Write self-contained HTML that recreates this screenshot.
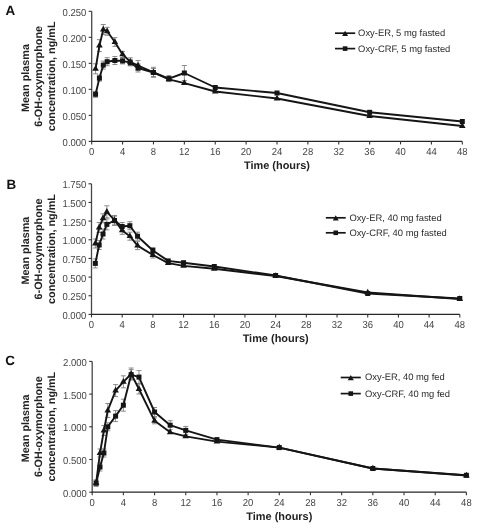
<!DOCTYPE html><html><head><meta charset="utf-8"><style>html,body{margin:0;padding:0;background:#fff;overflow:hidden;width:477px;height:528px;}svg{display:block;will-change:transform;}text{font-family:"Liberation Sans",sans-serif;text-rendering:geometricPrecision;}</style></head><body>
<svg width="477" height="528" viewBox="0 0 477 528">
<rect width="477" height="528" fill="#fff"/>
<text x="5.6" y="15.0" font-size="13.4" font-weight="bold" fill="#111">A</text>
<path d="M91.7,11.3 V142.0" fill="none" stroke="#484848" stroke-width="1.3"/>
<path d="M91.10000000000001,141.4 H462.3" fill="none" stroke="#262626" stroke-width="1.3"/>
<line x1="88.7" y1="141.40" x2="91.7" y2="141.40" stroke="#333" stroke-width="1.1"/>
<text transform="translate(86.40,146.00) scale(1,1.07)" font-size="9.5" text-anchor="end" fill="#444">0.000</text>
<line x1="88.7" y1="115.38" x2="91.7" y2="115.38" stroke="#333" stroke-width="1.1"/>
<text transform="translate(86.40,119.98) scale(1,1.07)" font-size="9.5" text-anchor="end" fill="#444">0.050</text>
<line x1="88.7" y1="89.36" x2="91.7" y2="89.36" stroke="#333" stroke-width="1.1"/>
<text transform="translate(86.40,93.96) scale(1,1.07)" font-size="9.5" text-anchor="end" fill="#444">0.100</text>
<line x1="88.7" y1="63.34" x2="91.7" y2="63.34" stroke="#333" stroke-width="1.1"/>
<text transform="translate(86.40,67.94) scale(1,1.07)" font-size="9.5" text-anchor="end" fill="#444">0.150</text>
<line x1="88.7" y1="37.32" x2="91.7" y2="37.32" stroke="#333" stroke-width="1.1"/>
<text transform="translate(86.40,41.92) scale(1,1.07)" font-size="9.5" text-anchor="end" fill="#444">0.200</text>
<line x1="88.7" y1="11.30" x2="91.7" y2="11.30" stroke="#333" stroke-width="1.1"/>
<text transform="translate(86.40,15.90) scale(1,1.07)" font-size="9.5" text-anchor="end" fill="#444">0.250</text>
<line x1="91.70" y1="141.4" x2="91.70" y2="144.4" stroke="#333" stroke-width="1.1"/>
<text transform="translate(91.70,154.8) scale(1,1.07)" font-size="9.5" text-anchor="middle" fill="#444">0</text>
<line x1="122.58" y1="141.4" x2="122.58" y2="144.4" stroke="#333" stroke-width="1.1"/>
<text transform="translate(122.58,154.8) scale(1,1.07)" font-size="9.5" text-anchor="middle" fill="#444">4</text>
<line x1="153.47" y1="141.4" x2="153.47" y2="144.4" stroke="#333" stroke-width="1.1"/>
<text transform="translate(153.47,154.8) scale(1,1.07)" font-size="9.5" text-anchor="middle" fill="#444">8</text>
<line x1="184.35" y1="141.4" x2="184.35" y2="144.4" stroke="#333" stroke-width="1.1"/>
<text transform="translate(184.35,154.8) scale(1,1.07)" font-size="9.5" text-anchor="middle" fill="#444">12</text>
<line x1="215.23" y1="141.4" x2="215.23" y2="144.4" stroke="#333" stroke-width="1.1"/>
<text transform="translate(215.23,154.8) scale(1,1.07)" font-size="9.5" text-anchor="middle" fill="#444">16</text>
<line x1="246.12" y1="141.4" x2="246.12" y2="144.4" stroke="#333" stroke-width="1.1"/>
<text transform="translate(246.12,154.8) scale(1,1.07)" font-size="9.5" text-anchor="middle" fill="#444">20</text>
<line x1="277.00" y1="141.4" x2="277.00" y2="144.4" stroke="#333" stroke-width="1.1"/>
<text transform="translate(277.00,154.8) scale(1,1.07)" font-size="9.5" text-anchor="middle" fill="#444">24</text>
<line x1="307.88" y1="141.4" x2="307.88" y2="144.4" stroke="#333" stroke-width="1.1"/>
<text transform="translate(307.88,154.8) scale(1,1.07)" font-size="9.5" text-anchor="middle" fill="#444">28</text>
<line x1="338.77" y1="141.4" x2="338.77" y2="144.4" stroke="#333" stroke-width="1.1"/>
<text transform="translate(338.77,154.8) scale(1,1.07)" font-size="9.5" text-anchor="middle" fill="#444">32</text>
<line x1="369.65" y1="141.4" x2="369.65" y2="144.4" stroke="#333" stroke-width="1.1"/>
<text transform="translate(369.65,154.8) scale(1,1.07)" font-size="9.5" text-anchor="middle" fill="#444">36</text>
<line x1="400.53" y1="141.4" x2="400.53" y2="144.4" stroke="#333" stroke-width="1.1"/>
<text transform="translate(400.53,154.8) scale(1,1.07)" font-size="9.5" text-anchor="middle" fill="#444">40</text>
<line x1="431.42" y1="141.4" x2="431.42" y2="144.4" stroke="#333" stroke-width="1.1"/>
<text transform="translate(431.42,154.8) scale(1,1.07)" font-size="9.5" text-anchor="middle" fill="#444">44</text>
<line x1="462.30" y1="141.4" x2="462.30" y2="144.4" stroke="#333" stroke-width="1.1"/>
<text transform="translate(462.30,154.8) scale(1,1.07)" font-size="9.5" text-anchor="middle" fill="#444">48</text>
<text x="277.00" y="168.79999999999998" font-size="10.95" font-weight="bold" text-anchor="middle" fill="#222">Time (hours)</text>
<text transform="translate(29.0,78.0) rotate(-90)" x="0" y="0" font-size="10.8" font-weight="bold" text-anchor="middle" fill="#222">Mean plasma</text>
<text transform="translate(42.0,76.4) rotate(-90)" x="0" y="0" font-size="10.8" font-weight="bold" text-anchor="middle" fill="#222">6-OH-oxymorphone</text>
<text transform="translate(54.6,76.4) rotate(-90)" x="0" y="0" font-size="10.8" font-weight="bold" text-anchor="middle" fill="#222">concentration, ng/mL</text>
<path d="M95.56,63.80 V73.80 M93.06,63.80 h5 M93.06,73.80 h5" stroke="#7a7a7a" stroke-width="0.85" fill="none"/>
<path d="M99.42,39.60 V51.60 M96.92,39.60 h5 M96.92,51.60 h5" stroke="#7a7a7a" stroke-width="0.85" fill="none"/>
<path d="M103.28,24.50 V34.50 M100.78,24.50 h5 M100.78,34.50 h5" stroke="#7a7a7a" stroke-width="0.85" fill="none"/>
<path d="M107.14,27.30 V35.30 M104.64,27.30 h5 M104.64,35.30 h5" stroke="#7a7a7a" stroke-width="0.85" fill="none"/>
<path d="M114.86,37.60 V46.40 M112.36,37.60 h5 M112.36,46.40 h5" stroke="#7a7a7a" stroke-width="0.85" fill="none"/>
<path d="M122.58,51.40 V57.40 M120.08,51.40 h5 M120.08,57.40 h5" stroke="#7a7a7a" stroke-width="0.85" fill="none"/>
<path d="M130.30,57.80 V65.80 M127.80,57.80 h5 M127.80,65.80 h5" stroke="#7a7a7a" stroke-width="0.85" fill="none"/>
<path d="M138.03,60.50 V70.50 M135.53,60.50 h5 M135.53,70.50 h5" stroke="#7a7a7a" stroke-width="0.85" fill="none"/>
<path d="M153.47,67.30 V77.30 M150.97,67.30 h5 M150.97,77.30 h5" stroke="#7a7a7a" stroke-width="0.85" fill="none"/>
<path d="M95.56,91.30 V97.30 M93.06,91.30 h5 M93.06,97.30 h5" stroke="#7a7a7a" stroke-width="0.85" fill="none"/>
<path d="M99.42,75.10 V81.10 M96.92,75.10 h5 M96.92,81.10 h5" stroke="#7a7a7a" stroke-width="0.85" fill="none"/>
<path d="M103.28,61.10 V69.10 M100.78,61.10 h5 M100.78,69.10 h5" stroke="#7a7a7a" stroke-width="0.85" fill="none"/>
<path d="M107.14,57.70 V65.70 M104.64,57.70 h5 M104.64,65.70 h5" stroke="#7a7a7a" stroke-width="0.85" fill="none"/>
<path d="M114.86,56.50 V64.50 M112.36,56.50 h5 M112.36,64.50 h5" stroke="#7a7a7a" stroke-width="0.85" fill="none"/>
<path d="M122.58,57.90 V63.90 M120.08,57.90 h5 M120.08,63.90 h5" stroke="#7a7a7a" stroke-width="0.85" fill="none"/>
<path d="M130.30,59.60 V65.60 M127.80,59.60 h5 M127.80,65.60 h5" stroke="#7a7a7a" stroke-width="0.85" fill="none"/>
<path d="M138.03,64.00 V72.00 M135.53,64.00 h5 M135.53,72.00 h5" stroke="#7a7a7a" stroke-width="0.85" fill="none"/>
<path d="M153.47,68.50 V76.50 M150.97,68.50 h5 M150.97,76.50 h5" stroke="#7a7a7a" stroke-width="0.85" fill="none"/>
<path d="M168.91,75.60 V81.60 M166.41,75.60 h5 M166.41,81.60 h5" stroke="#7a7a7a" stroke-width="0.85" fill="none"/>
<path d="M184.35,65.50 V80.50 M181.85,65.50 h5 M181.85,80.50 h5" stroke="#7a7a7a" stroke-width="0.85" fill="none"/>
<polyline points="95.56,68.80 99.42,45.60 103.28,29.50 107.14,31.30 114.86,42.00 122.58,54.40 130.30,61.80 138.03,65.50 153.47,72.30 168.91,79.40 184.35,83.10 215.23,91.50 277.00,98.50 369.65,116.00 462.30,126.00" fill="none" stroke="#151515" stroke-width="1.9" stroke-linejoin="round"/>
<polyline points="95.56,94.30 99.42,78.10 103.28,65.10 107.14,61.70 114.86,60.50 122.58,60.90 130.30,62.60 138.03,68.00 153.47,72.50 168.91,78.60 184.35,73.00 215.23,87.50 277.00,93.00 369.65,112.30 462.30,121.50" fill="none" stroke="#151515" stroke-width="1.9" stroke-linejoin="round"/>
<rect x="93.06" y="91.80" width="5.0" height="5.0" fill="#151515"/>
<rect x="96.92" y="75.60" width="5.0" height="5.0" fill="#151515"/>
<rect x="100.78" y="62.60" width="5.0" height="5.0" fill="#151515"/>
<rect x="104.64" y="59.20" width="5.0" height="5.0" fill="#151515"/>
<rect x="112.36" y="58.00" width="5.0" height="5.0" fill="#151515"/>
<rect x="120.08" y="58.40" width="5.0" height="5.0" fill="#151515"/>
<rect x="127.80" y="60.10" width="5.0" height="5.0" fill="#151515"/>
<rect x="135.53" y="65.50" width="5.0" height="5.0" fill="#151515"/>
<rect x="150.97" y="70.00" width="5.0" height="5.0" fill="#151515"/>
<rect x="166.41" y="76.10" width="5.0" height="5.0" fill="#151515"/>
<rect x="181.85" y="70.50" width="5.0" height="5.0" fill="#151515"/>
<rect x="212.73" y="85.00" width="5.0" height="5.0" fill="#151515"/>
<rect x="274.50" y="90.50" width="5.0" height="5.0" fill="#151515"/>
<rect x="367.15" y="109.80" width="5.0" height="5.0" fill="#151515"/>
<rect x="459.80" y="119.00" width="5.0" height="5.0" fill="#151515"/>
<path d="M92.26,70.69 L98.86,70.69 L95.56,65.02 Z" fill="#151515"/>
<path d="M96.12,47.49 L102.72,47.49 L99.42,41.82 Z" fill="#151515"/>
<path d="M99.98,31.39 L106.58,31.39 L103.28,25.72 Z" fill="#151515"/>
<path d="M103.84,33.19 L110.44,33.19 L107.14,27.52 Z" fill="#151515"/>
<path d="M111.56,43.89 L118.16,43.89 L114.86,38.22 Z" fill="#151515"/>
<path d="M119.28,56.29 L125.88,56.29 L122.58,50.62 Z" fill="#151515"/>
<path d="M127.00,63.69 L133.60,63.69 L130.30,58.02 Z" fill="#151515"/>
<path d="M134.72,67.39 L141.33,67.39 L138.03,61.72 Z" fill="#151515"/>
<path d="M150.17,74.19 L156.77,74.19 L153.47,68.52 Z" fill="#151515"/>
<path d="M165.61,81.29 L172.21,81.29 L168.91,75.62 Z" fill="#151515"/>
<path d="M181.05,84.99 L187.65,84.99 L184.35,79.32 Z" fill="#151515"/>
<path d="M211.93,93.39 L218.53,93.39 L215.23,87.72 Z" fill="#151515"/>
<path d="M273.70,100.39 L280.30,100.39 L277.00,94.72 Z" fill="#151515"/>
<path d="M366.35,117.89 L372.95,117.89 L369.65,112.22 Z" fill="#151515"/>
<path d="M459.00,127.89 L465.60,127.89 L462.30,122.22 Z" fill="#151515"/>
<line x1="335.0" y1="33.2" x2="355.2" y2="33.2" stroke="#151515" stroke-width="1.7"/>
<path d="M342.10,35.92 L348.10,35.92 L345.10,30.76 Z" fill="#151515"/>
<text x="358.1" y="36.10" font-size="9.4" fill="#2a2a2a">Oxy-ER, 5 mg fasted</text>
<line x1="335.0" y1="48.6" x2="355.2" y2="48.6" stroke="#151515" stroke-width="1.7"/>
<rect x="342.80" y="46.30" width="4.6" height="4.6" fill="#151515"/>
<text x="358.1" y="51.50" font-size="9.4" fill="#2a2a2a">Oxy-CRF, 5 mg fasted</text>
<text x="6.4" y="188.7" font-size="13.4" font-weight="bold" fill="#111">B</text>
<path d="M91.5,183.8 V315.0" fill="none" stroke="#484848" stroke-width="1.3"/>
<path d="M90.9,314.4 H459.8" fill="none" stroke="#262626" stroke-width="1.3"/>
<line x1="88.5" y1="314.40" x2="91.5" y2="314.40" stroke="#333" stroke-width="1.1"/>
<text transform="translate(86.20,319.00) scale(1,1.07)" font-size="9.5" text-anchor="end" fill="#444">0.000</text>
<line x1="88.5" y1="295.74" x2="91.5" y2="295.74" stroke="#333" stroke-width="1.1"/>
<text transform="translate(86.20,300.34) scale(1,1.07)" font-size="9.5" text-anchor="end" fill="#444">0.250</text>
<line x1="88.5" y1="277.09" x2="91.5" y2="277.09" stroke="#333" stroke-width="1.1"/>
<text transform="translate(86.20,281.69) scale(1,1.07)" font-size="9.5" text-anchor="end" fill="#444">0.500</text>
<line x1="88.5" y1="258.43" x2="91.5" y2="258.43" stroke="#333" stroke-width="1.1"/>
<text transform="translate(86.20,263.03) scale(1,1.07)" font-size="9.5" text-anchor="end" fill="#444">0.750</text>
<line x1="88.5" y1="239.77" x2="91.5" y2="239.77" stroke="#333" stroke-width="1.1"/>
<text transform="translate(86.20,244.37) scale(1,1.07)" font-size="9.5" text-anchor="end" fill="#444">1.000</text>
<line x1="88.5" y1="221.11" x2="91.5" y2="221.11" stroke="#333" stroke-width="1.1"/>
<text transform="translate(86.20,225.71) scale(1,1.07)" font-size="9.5" text-anchor="end" fill="#444">1.250</text>
<line x1="88.5" y1="202.46" x2="91.5" y2="202.46" stroke="#333" stroke-width="1.1"/>
<text transform="translate(86.20,207.06) scale(1,1.07)" font-size="9.5" text-anchor="end" fill="#444">1.500</text>
<line x1="88.5" y1="183.80" x2="91.5" y2="183.80" stroke="#333" stroke-width="1.1"/>
<text transform="translate(86.20,188.40) scale(1,1.07)" font-size="9.5" text-anchor="end" fill="#444">1.750</text>
<line x1="91.50" y1="314.4" x2="91.50" y2="317.4" stroke="#333" stroke-width="1.1"/>
<text transform="translate(91.50,327.7) scale(1,1.07)" font-size="9.5" text-anchor="middle" fill="#444">0</text>
<line x1="122.19" y1="314.4" x2="122.19" y2="317.4" stroke="#333" stroke-width="1.1"/>
<text transform="translate(122.19,327.7) scale(1,1.07)" font-size="9.5" text-anchor="middle" fill="#444">4</text>
<line x1="152.88" y1="314.4" x2="152.88" y2="317.4" stroke="#333" stroke-width="1.1"/>
<text transform="translate(152.88,327.7) scale(1,1.07)" font-size="9.5" text-anchor="middle" fill="#444">8</text>
<line x1="183.57" y1="314.4" x2="183.57" y2="317.4" stroke="#333" stroke-width="1.1"/>
<text transform="translate(183.57,327.7) scale(1,1.07)" font-size="9.5" text-anchor="middle" fill="#444">12</text>
<line x1="214.27" y1="314.4" x2="214.27" y2="317.4" stroke="#333" stroke-width="1.1"/>
<text transform="translate(214.27,327.7) scale(1,1.07)" font-size="9.5" text-anchor="middle" fill="#444">16</text>
<line x1="244.96" y1="314.4" x2="244.96" y2="317.4" stroke="#333" stroke-width="1.1"/>
<text transform="translate(244.96,327.7) scale(1,1.07)" font-size="9.5" text-anchor="middle" fill="#444">20</text>
<line x1="275.65" y1="314.4" x2="275.65" y2="317.4" stroke="#333" stroke-width="1.1"/>
<text transform="translate(275.65,327.7) scale(1,1.07)" font-size="9.5" text-anchor="middle" fill="#444">24</text>
<line x1="306.34" y1="314.4" x2="306.34" y2="317.4" stroke="#333" stroke-width="1.1"/>
<text transform="translate(306.34,327.7) scale(1,1.07)" font-size="9.5" text-anchor="middle" fill="#444">28</text>
<line x1="337.03" y1="314.4" x2="337.03" y2="317.4" stroke="#333" stroke-width="1.1"/>
<text transform="translate(337.03,327.7) scale(1,1.07)" font-size="9.5" text-anchor="middle" fill="#444">32</text>
<line x1="367.73" y1="314.4" x2="367.73" y2="317.4" stroke="#333" stroke-width="1.1"/>
<text transform="translate(367.73,327.7) scale(1,1.07)" font-size="9.5" text-anchor="middle" fill="#444">36</text>
<line x1="398.42" y1="314.4" x2="398.42" y2="317.4" stroke="#333" stroke-width="1.1"/>
<text transform="translate(398.42,327.7) scale(1,1.07)" font-size="9.5" text-anchor="middle" fill="#444">40</text>
<line x1="429.11" y1="314.4" x2="429.11" y2="317.4" stroke="#333" stroke-width="1.1"/>
<text transform="translate(429.11,327.7) scale(1,1.07)" font-size="9.5" text-anchor="middle" fill="#444">44</text>
<line x1="459.80" y1="314.4" x2="459.80" y2="317.4" stroke="#333" stroke-width="1.1"/>
<text transform="translate(459.80,327.7) scale(1,1.07)" font-size="9.5" text-anchor="middle" fill="#444">48</text>
<text x="275.65" y="342.20000000000005" font-size="10.95" font-weight="bold" text-anchor="middle" fill="#222">Time (hours)</text>
<text transform="translate(28.8,250.6) rotate(-90)" x="0" y="0" font-size="10.8" font-weight="bold" text-anchor="middle" fill="#222">Mean plasma</text>
<text transform="translate(42.0,249.0) rotate(-90)" x="0" y="0" font-size="10.8" font-weight="bold" text-anchor="middle" fill="#222">6-OH-oxymorphone</text>
<text transform="translate(54.5,249.0) rotate(-90)" x="0" y="0" font-size="10.8" font-weight="bold" text-anchor="middle" fill="#222">concentration, ng/mL</text>
<path d="M95.34,239.00 V248.00 M92.84,239.00 h5 M92.84,248.00 h5" stroke="#7a7a7a" stroke-width="0.85" fill="none"/>
<path d="M99.17,222.50 V232.50 M96.67,222.50 h5 M96.67,232.50 h5" stroke="#7a7a7a" stroke-width="0.85" fill="none"/>
<path d="M103.01,213.80 V222.80 M100.51,213.80 h5 M100.51,222.80 h5" stroke="#7a7a7a" stroke-width="0.85" fill="none"/>
<path d="M106.85,205.80 V217.80 M104.35,205.80 h5 M104.35,217.80 h5" stroke="#7a7a7a" stroke-width="0.85" fill="none"/>
<path d="M114.52,216.20 V224.20 M112.02,216.20 h5 M112.02,224.20 h5" stroke="#7a7a7a" stroke-width="0.85" fill="none"/>
<path d="M122.19,226.40 V234.40 M119.69,226.40 h5 M119.69,234.40 h5" stroke="#7a7a7a" stroke-width="0.85" fill="none"/>
<path d="M129.86,232.20 V240.20 M127.36,232.20 h5 M127.36,240.20 h5" stroke="#7a7a7a" stroke-width="0.85" fill="none"/>
<path d="M137.54,241.60 V249.60 M135.04,241.60 h5 M135.04,249.60 h5" stroke="#7a7a7a" stroke-width="0.85" fill="none"/>
<path d="M152.88,252.00 V258.00 M150.38,252.00 h5 M150.38,258.00 h5" stroke="#7a7a7a" stroke-width="0.85" fill="none"/>
<path d="M95.34,258.90 V267.90 M92.84,258.90 h5 M92.84,267.90 h5" stroke="#7a7a7a" stroke-width="0.85" fill="none"/>
<path d="M99.17,240.50 V249.50 M96.67,240.50 h5 M96.67,249.50 h5" stroke="#7a7a7a" stroke-width="0.85" fill="none"/>
<path d="M103.01,229.00 V239.00 M100.51,229.00 h5 M100.51,239.00 h5" stroke="#7a7a7a" stroke-width="0.85" fill="none"/>
<path d="M106.85,218.90 V229.90 M104.35,218.90 h5 M104.35,229.90 h5" stroke="#7a7a7a" stroke-width="0.85" fill="none"/>
<path d="M114.52,215.50 V225.50 M112.02,215.50 h5 M112.02,225.50 h5" stroke="#7a7a7a" stroke-width="0.85" fill="none"/>
<path d="M122.19,222.50 V230.50 M119.69,222.50 h5 M119.69,230.50 h5" stroke="#7a7a7a" stroke-width="0.85" fill="none"/>
<path d="M129.86,221.70 V229.70 M127.36,221.70 h5 M127.36,229.70 h5" stroke="#7a7a7a" stroke-width="0.85" fill="none"/>
<path d="M137.54,232.20 V240.20 M135.04,232.20 h5 M135.04,240.20 h5" stroke="#7a7a7a" stroke-width="0.85" fill="none"/>
<path d="M152.88,247.50 V253.50 M150.38,247.50 h5 M150.38,253.50 h5" stroke="#7a7a7a" stroke-width="0.85" fill="none"/>
<polyline points="95.34,243.50 99.17,227.50 103.01,218.30 106.85,211.80 114.52,220.20 122.19,230.40 129.86,236.20 137.54,245.60 152.88,255.00 168.23,263.10 183.57,265.90 214.27,268.80 275.65,276.00 367.73,292.50 459.80,299.00" fill="none" stroke="#151515" stroke-width="1.9" stroke-linejoin="round"/>
<polyline points="95.34,263.40 99.17,245.00 103.01,234.00 106.85,224.40 114.52,220.50 122.19,226.50 129.86,225.70 137.54,236.20 152.88,250.50 168.23,260.90 183.57,262.70 214.27,266.50 275.65,275.50 367.73,293.50 459.80,298.50" fill="none" stroke="#151515" stroke-width="1.9" stroke-linejoin="round"/>
<rect x="92.84" y="260.90" width="5.0" height="5.0" fill="#151515"/>
<rect x="96.67" y="242.50" width="5.0" height="5.0" fill="#151515"/>
<rect x="100.51" y="231.50" width="5.0" height="5.0" fill="#151515"/>
<rect x="104.35" y="221.90" width="5.0" height="5.0" fill="#151515"/>
<rect x="112.02" y="218.00" width="5.0" height="5.0" fill="#151515"/>
<rect x="119.69" y="224.00" width="5.0" height="5.0" fill="#151515"/>
<rect x="127.36" y="223.20" width="5.0" height="5.0" fill="#151515"/>
<rect x="135.04" y="233.70" width="5.0" height="5.0" fill="#151515"/>
<rect x="150.38" y="248.00" width="5.0" height="5.0" fill="#151515"/>
<rect x="165.73" y="258.40" width="5.0" height="5.0" fill="#151515"/>
<rect x="181.07" y="260.20" width="5.0" height="5.0" fill="#151515"/>
<rect x="211.77" y="264.00" width="5.0" height="5.0" fill="#151515"/>
<rect x="273.15" y="273.00" width="5.0" height="5.0" fill="#151515"/>
<rect x="365.23" y="291.00" width="5.0" height="5.0" fill="#151515"/>
<rect x="457.30" y="296.00" width="5.0" height="5.0" fill="#151515"/>
<path d="M92.04,245.39 L98.64,245.39 L95.34,239.72 Z" fill="#151515"/>
<path d="M95.87,229.39 L102.47,229.39 L99.17,223.72 Z" fill="#151515"/>
<path d="M99.71,220.19 L106.31,220.19 L103.01,214.52 Z" fill="#151515"/>
<path d="M103.55,213.69 L110.15,213.69 L106.85,208.02 Z" fill="#151515"/>
<path d="M111.22,222.09 L117.82,222.09 L114.52,216.42 Z" fill="#151515"/>
<path d="M118.89,232.29 L125.49,232.29 L122.19,226.62 Z" fill="#151515"/>
<path d="M126.56,238.09 L133.16,238.09 L129.86,232.42 Z" fill="#151515"/>
<path d="M134.24,247.49 L140.84,247.49 L137.54,241.82 Z" fill="#151515"/>
<path d="M149.58,256.89 L156.18,256.89 L152.88,251.22 Z" fill="#151515"/>
<path d="M164.93,264.99 L171.53,264.99 L168.23,259.32 Z" fill="#151515"/>
<path d="M180.27,267.79 L186.88,267.79 L183.57,262.12 Z" fill="#151515"/>
<path d="M210.97,270.69 L217.57,270.69 L214.27,265.02 Z" fill="#151515"/>
<path d="M272.35,277.89 L278.95,277.89 L275.65,272.22 Z" fill="#151515"/>
<path d="M364.43,294.39 L371.03,294.39 L367.73,288.72 Z" fill="#151515"/>
<path d="M456.50,300.89 L463.10,300.89 L459.80,295.22 Z" fill="#151515"/>
<line x1="325.8" y1="217.8" x2="345.7" y2="217.8" stroke="#151515" stroke-width="1.7"/>
<path d="M332.75,220.52 L338.75,220.52 L335.75,215.36 Z" fill="#151515"/>
<text x="349.4" y="220.70" font-size="9.4" fill="#2a2a2a">Oxy-ER, 40 mg fasted</text>
<line x1="325.8" y1="232.8" x2="345.7" y2="232.8" stroke="#151515" stroke-width="1.7"/>
<rect x="333.45" y="230.50" width="4.6" height="4.6" fill="#151515"/>
<text x="349.4" y="235.70" font-size="9.4" fill="#2a2a2a">Oxy-CRF, 40 mg fasted</text>
<text x="5.2" y="364.9" font-size="13.4" font-weight="bold" fill="#111">C</text>
<path d="M92.2,361.4 V492.8" fill="none" stroke="#484848" stroke-width="1.3"/>
<path d="M91.60000000000001,492.2 H466.4" fill="none" stroke="#262626" stroke-width="1.3"/>
<line x1="89.2" y1="492.20" x2="92.2" y2="492.20" stroke="#333" stroke-width="1.1"/>
<text transform="translate(86.90,496.80) scale(1,1.07)" font-size="9.5" text-anchor="end" fill="#444">0.000</text>
<line x1="89.2" y1="459.50" x2="92.2" y2="459.50" stroke="#333" stroke-width="1.1"/>
<text transform="translate(86.90,464.10) scale(1,1.07)" font-size="9.5" text-anchor="end" fill="#444">0.500</text>
<line x1="89.2" y1="426.80" x2="92.2" y2="426.80" stroke="#333" stroke-width="1.1"/>
<text transform="translate(86.90,431.40) scale(1,1.07)" font-size="9.5" text-anchor="end" fill="#444">1.000</text>
<line x1="89.2" y1="394.10" x2="92.2" y2="394.10" stroke="#333" stroke-width="1.1"/>
<text transform="translate(86.90,398.70) scale(1,1.07)" font-size="9.5" text-anchor="end" fill="#444">1.500</text>
<line x1="89.2" y1="361.40" x2="92.2" y2="361.40" stroke="#333" stroke-width="1.1"/>
<text transform="translate(86.90,366.00) scale(1,1.07)" font-size="9.5" text-anchor="end" fill="#444">2.000</text>
<line x1="92.20" y1="492.2" x2="92.20" y2="495.2" stroke="#333" stroke-width="1.1"/>
<text transform="translate(92.20,505.7) scale(1,1.07)" font-size="9.5" text-anchor="middle" fill="#444">0</text>
<line x1="123.38" y1="492.2" x2="123.38" y2="495.2" stroke="#333" stroke-width="1.1"/>
<text transform="translate(123.38,505.7) scale(1,1.07)" font-size="9.5" text-anchor="middle" fill="#444">4</text>
<line x1="154.57" y1="492.2" x2="154.57" y2="495.2" stroke="#333" stroke-width="1.1"/>
<text transform="translate(154.57,505.7) scale(1,1.07)" font-size="9.5" text-anchor="middle" fill="#444">8</text>
<line x1="185.75" y1="492.2" x2="185.75" y2="495.2" stroke="#333" stroke-width="1.1"/>
<text transform="translate(185.75,505.7) scale(1,1.07)" font-size="9.5" text-anchor="middle" fill="#444">12</text>
<line x1="216.93" y1="492.2" x2="216.93" y2="495.2" stroke="#333" stroke-width="1.1"/>
<text transform="translate(216.93,505.7) scale(1,1.07)" font-size="9.5" text-anchor="middle" fill="#444">16</text>
<line x1="248.12" y1="492.2" x2="248.12" y2="495.2" stroke="#333" stroke-width="1.1"/>
<text transform="translate(248.12,505.7) scale(1,1.07)" font-size="9.5" text-anchor="middle" fill="#444">20</text>
<line x1="279.30" y1="492.2" x2="279.30" y2="495.2" stroke="#333" stroke-width="1.1"/>
<text transform="translate(279.30,505.7) scale(1,1.07)" font-size="9.5" text-anchor="middle" fill="#444">24</text>
<line x1="310.48" y1="492.2" x2="310.48" y2="495.2" stroke="#333" stroke-width="1.1"/>
<text transform="translate(310.48,505.7) scale(1,1.07)" font-size="9.5" text-anchor="middle" fill="#444">28</text>
<line x1="341.67" y1="492.2" x2="341.67" y2="495.2" stroke="#333" stroke-width="1.1"/>
<text transform="translate(341.67,505.7) scale(1,1.07)" font-size="9.5" text-anchor="middle" fill="#444">32</text>
<line x1="372.85" y1="492.2" x2="372.85" y2="495.2" stroke="#333" stroke-width="1.1"/>
<text transform="translate(372.85,505.7) scale(1,1.07)" font-size="9.5" text-anchor="middle" fill="#444">36</text>
<line x1="404.03" y1="492.2" x2="404.03" y2="495.2" stroke="#333" stroke-width="1.1"/>
<text transform="translate(404.03,505.7) scale(1,1.07)" font-size="9.5" text-anchor="middle" fill="#444">40</text>
<line x1="435.22" y1="492.2" x2="435.22" y2="495.2" stroke="#333" stroke-width="1.1"/>
<text transform="translate(435.22,505.7) scale(1,1.07)" font-size="9.5" text-anchor="middle" fill="#444">44</text>
<line x1="466.40" y1="492.2" x2="466.40" y2="495.2" stroke="#333" stroke-width="1.1"/>
<text transform="translate(466.40,505.7) scale(1,1.07)" font-size="9.5" text-anchor="middle" fill="#444">48</text>
<text x="279.30" y="520.3000000000001" font-size="10.95" font-weight="bold" text-anchor="middle" fill="#222">Time (hours)</text>
<text transform="translate(29.0,428.3) rotate(-90)" x="0" y="0" font-size="10.8" font-weight="bold" text-anchor="middle" fill="#222">Mean plasma</text>
<text transform="translate(41.8,426.7) rotate(-90)" x="0" y="0" font-size="10.8" font-weight="bold" text-anchor="middle" fill="#222">6-OH-oxymorphone</text>
<text transform="translate(54.6,426.7) rotate(-90)" x="0" y="0" font-size="10.8" font-weight="bold" text-anchor="middle" fill="#222">concentration, ng/mL</text>
<path d="M96.10,480.00 V486.00 M93.60,480.00 h5 M93.60,486.00 h5" stroke="#7a7a7a" stroke-width="0.85" fill="none"/>
<path d="M100.00,449.00 V457.00 M97.50,449.00 h5 M97.50,457.00 h5" stroke="#7a7a7a" stroke-width="0.85" fill="none"/>
<path d="M103.89,425.50 V435.50 M101.39,425.50 h5 M101.39,435.50 h5" stroke="#7a7a7a" stroke-width="0.85" fill="none"/>
<path d="M107.79,403.50 V417.50 M105.29,403.50 h5 M105.29,417.50 h5" stroke="#7a7a7a" stroke-width="0.85" fill="none"/>
<path d="M115.59,384.60 V396.60 M113.09,384.60 h5 M113.09,396.60 h5" stroke="#7a7a7a" stroke-width="0.85" fill="none"/>
<path d="M123.38,375.80 V387.80 M120.88,375.80 h5 M120.88,387.80 h5" stroke="#7a7a7a" stroke-width="0.85" fill="none"/>
<path d="M131.18,368.00 V380.00 M128.68,368.00 h5 M128.68,380.00 h5" stroke="#7a7a7a" stroke-width="0.85" fill="none"/>
<path d="M138.97,384.00 V394.00 M136.47,384.00 h5 M136.47,394.00 h5" stroke="#7a7a7a" stroke-width="0.85" fill="none"/>
<path d="M154.57,417.80 V423.80 M152.07,417.80 h5 M152.07,423.80 h5" stroke="#7a7a7a" stroke-width="0.85" fill="none"/>
<path d="M96.10,480.20 V486.20 M93.60,480.20 h5 M93.60,486.20 h5" stroke="#7a7a7a" stroke-width="0.85" fill="none"/>
<path d="M100.00,463.00 V471.00 M97.50,463.00 h5 M97.50,471.00 h5" stroke="#7a7a7a" stroke-width="0.85" fill="none"/>
<path d="M103.89,449.00 V457.00 M101.39,449.00 h5 M101.39,457.00 h5" stroke="#7a7a7a" stroke-width="0.85" fill="none"/>
<path d="M107.79,422.80 V430.80 M105.29,422.80 h5 M105.29,430.80 h5" stroke="#7a7a7a" stroke-width="0.85" fill="none"/>
<path d="M115.59,410.60 V421.60 M113.09,410.60 h5 M113.09,421.60 h5" stroke="#7a7a7a" stroke-width="0.85" fill="none"/>
<path d="M123.38,399.20 V411.20 M120.88,399.20 h5 M120.88,411.20 h5" stroke="#7a7a7a" stroke-width="0.85" fill="none"/>
<path d="M131.18,369.60 V379.60 M128.68,369.60 h5 M128.68,379.60 h5" stroke="#7a7a7a" stroke-width="0.85" fill="none"/>
<path d="M138.97,370.60 V383.60 M136.47,370.60 h5 M136.47,383.60 h5" stroke="#7a7a7a" stroke-width="0.85" fill="none"/>
<path d="M154.57,407.50 V416.50 M152.07,407.50 h5 M152.07,416.50 h5" stroke="#7a7a7a" stroke-width="0.85" fill="none"/>
<path d="M170.16,420.70 V429.70 M167.66,420.70 h5 M167.66,429.70 h5" stroke="#7a7a7a" stroke-width="0.85" fill="none"/>
<path d="M185.75,426.40 V434.40 M183.25,426.40 h5 M183.25,434.40 h5" stroke="#7a7a7a" stroke-width="0.85" fill="none"/>
<polyline points="96.10,483.00 100.00,453.00 103.89,430.50 107.79,410.50 115.59,390.60 123.38,381.80 131.18,374.00 138.97,389.00 154.57,420.80 170.16,432.30 185.75,436.40 216.93,441.60 279.30,447.60 372.85,468.50 466.40,475.50" fill="none" stroke="#151515" stroke-width="1.9" stroke-linejoin="round"/>
<polyline points="96.10,483.20 100.00,467.00 103.89,453.00 107.79,426.80 115.59,416.10 123.38,405.20 131.18,374.60 138.97,377.10 154.57,412.00 170.16,425.20 185.75,430.40 216.93,439.60 279.30,447.60 372.85,468.50 466.40,475.30" fill="none" stroke="#151515" stroke-width="1.9" stroke-linejoin="round"/>
<rect x="93.60" y="480.70" width="5.0" height="5.0" fill="#151515"/>
<rect x="97.50" y="464.50" width="5.0" height="5.0" fill="#151515"/>
<rect x="101.39" y="450.50" width="5.0" height="5.0" fill="#151515"/>
<rect x="105.29" y="424.30" width="5.0" height="5.0" fill="#151515"/>
<rect x="113.09" y="413.60" width="5.0" height="5.0" fill="#151515"/>
<rect x="120.88" y="402.70" width="5.0" height="5.0" fill="#151515"/>
<rect x="128.68" y="372.10" width="5.0" height="5.0" fill="#151515"/>
<rect x="136.47" y="374.60" width="5.0" height="5.0" fill="#151515"/>
<rect x="152.07" y="409.50" width="5.0" height="5.0" fill="#151515"/>
<rect x="167.66" y="422.70" width="5.0" height="5.0" fill="#151515"/>
<rect x="183.25" y="427.90" width="5.0" height="5.0" fill="#151515"/>
<rect x="214.43" y="437.10" width="5.0" height="5.0" fill="#151515"/>
<rect x="276.80" y="445.10" width="5.0" height="5.0" fill="#151515"/>
<rect x="370.35" y="466.00" width="5.0" height="5.0" fill="#151515"/>
<rect x="463.90" y="472.80" width="5.0" height="5.0" fill="#151515"/>
<path d="M92.80,484.89 L99.40,484.89 L96.10,479.22 Z" fill="#151515"/>
<path d="M96.70,454.89 L103.30,454.89 L100.00,449.22 Z" fill="#151515"/>
<path d="M100.59,432.39 L107.19,432.39 L103.89,426.72 Z" fill="#151515"/>
<path d="M104.49,412.39 L111.09,412.39 L107.79,406.72 Z" fill="#151515"/>
<path d="M112.29,392.49 L118.89,392.49 L115.59,386.82 Z" fill="#151515"/>
<path d="M120.08,383.69 L126.68,383.69 L123.38,378.02 Z" fill="#151515"/>
<path d="M127.88,375.89 L134.48,375.89 L131.18,370.22 Z" fill="#151515"/>
<path d="M135.67,390.89 L142.28,390.89 L138.97,385.22 Z" fill="#151515"/>
<path d="M151.27,422.69 L157.87,422.69 L154.57,417.02 Z" fill="#151515"/>
<path d="M166.86,434.19 L173.46,434.19 L170.16,428.52 Z" fill="#151515"/>
<path d="M182.45,438.29 L189.05,438.29 L185.75,432.62 Z" fill="#151515"/>
<path d="M213.63,443.49 L220.23,443.49 L216.93,437.82 Z" fill="#151515"/>
<path d="M276.00,449.49 L282.60,449.49 L279.30,443.82 Z" fill="#151515"/>
<path d="M369.55,470.39 L376.15,470.39 L372.85,464.72 Z" fill="#151515"/>
<path d="M463.10,477.39 L469.70,477.39 L466.40,471.72 Z" fill="#151515"/>
<line x1="340.7" y1="377.5" x2="360.8" y2="377.5" stroke="#151515" stroke-width="1.7"/>
<path d="M347.75,380.22 L353.75,380.22 L350.75,375.06 Z" fill="#151515"/>
<text x="365.0" y="380.40" font-size="9.4" fill="#2a2a2a">Oxy-ER, 40 mg fed</text>
<line x1="340.7" y1="393.6" x2="360.8" y2="393.6" stroke="#151515" stroke-width="1.7"/>
<rect x="348.45" y="391.30" width="4.6" height="4.6" fill="#151515"/>
<text x="365.0" y="396.50" font-size="9.4" fill="#2a2a2a">Oxy-CRF, 40 mg fed</text>
</svg></body></html>
